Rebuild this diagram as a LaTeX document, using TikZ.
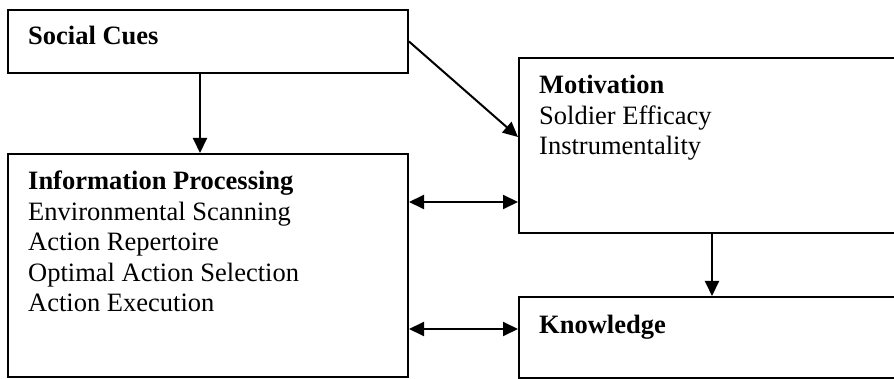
\documentclass[tikz,border=0pt]{standalone}
\usepackage{fontspec}
\setmainfont{Liberation Serif}
\usetikzlibrary{arrows.meta}
\begin{document}
\begin{tikzpicture}[x=1pt,y=-1pt,
  box/.style={draw, line width=2pt, rectangle, inner sep=0pt, anchor=center},
  txt/.style={anchor=base west, inner sep=0pt, font=\fontsize{26.5}{30.5}\selectfont, align=left},
  conn/.style={line width=2pt, -{Triangle[length=15pt,width=14pt]}},
  dbl/.style={line width=2pt, {Triangle[length=15pt,width=14pt]}-{Triangle[length=15pt,width=14pt]}}]
\useasboundingbox (0,0) rectangle (894,379);
\clip (0,0) rectangle (894,379);
% boxes
\node[box, minimum width=400pt, minimum height=63pt] (sc) at (208,41.5) {};
\node[box, minimum width=400pt, minimum height=223pt] (ip) at (208,265.5) {};
\node[box, minimum width=391pt, minimum height=175pt] (mot) at (714.5,145.5) {};
\node[box, minimum width=391pt, minimum height=81pt] (kn) at (714.5,337.5) {};
% texts
\node[txt] (tsc) at (28,45) {\textbf{Social Cues}};
\node[txt] (tip) at (28,190) {\begin{tabular}[t]{@{}l@{}}\textbf{Information Processing}\\Environmental Scanning\\Action Repertoire\\Optimal Action Selection\\Action Execution\end{tabular}};
\node[txt] (tmot) at (539,94) {\begin{tabular}[t]{@{}l@{}}\textbf{Motivation}\\Soldier Efficacy\\Instrumentality\end{tabular}};
\node[txt] (tkn) at (539,333) {\textbf{Knowledge}};
% connectors
\coordinate (r1) at (0,202);
\coordinate (r2) at (0,329);
\draw[conn] ([xshift=-8pt]sc.south) -- ([xshift=-8pt]ip.north);
\draw[conn] (sc.east) -- ([yshift=8.5pt]mot.west);
\draw[dbl] (ip.east |- r1) -- (mot.west |- r1);
\draw[conn] ([xshift=-2.5pt]mot.south) -- ([xshift=-2.5pt]kn.north);
\draw[dbl] (ip.east |- r2) -- (kn.west |- r2);
\end{tikzpicture}
\end{document}
